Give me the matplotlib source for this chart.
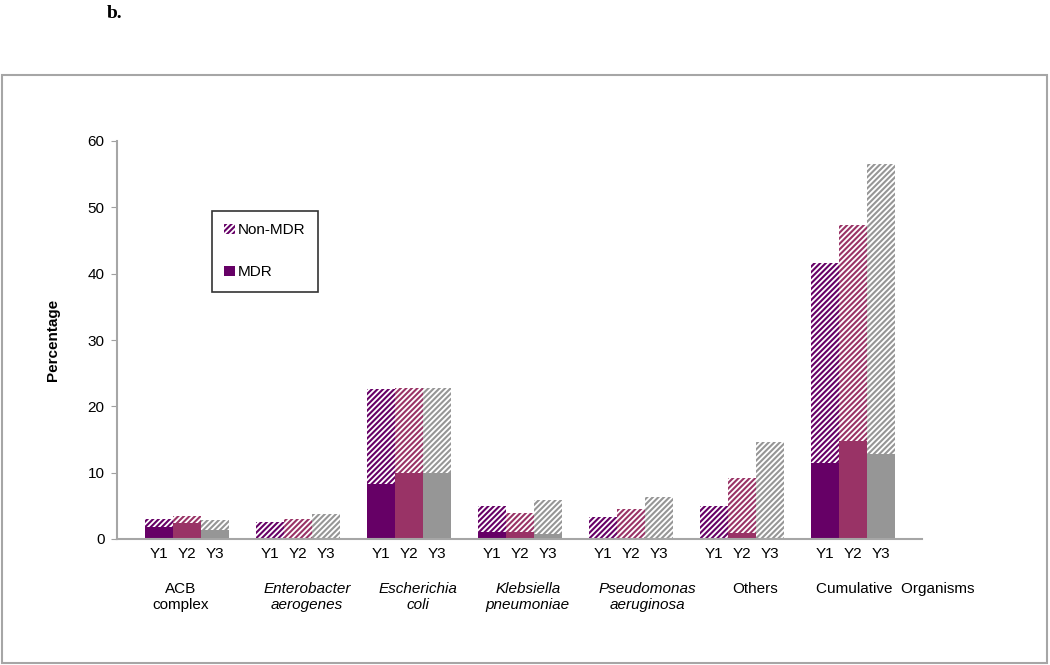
import matplotlib
matplotlib.use('Agg')
import matplotlib.pyplot as plt
import matplotlib.patches as mpatches
import matplotlib.transforms as mtransforms
import numpy as np

plt.rcParams['font.family'] = ['Liberation Sans', 'DejaVu Sans']
plt.rcParams['hatch.linewidth'] = 1.5

groups = ['ACB\ncomplex', 'Enterobacter\naerogenes', 'Escherichia\ncoli',
          'Klebsiella\npneumoniae', 'Pseudomonas\naeruginosa', 'Others',
          'Cumulative  Organisms']
italic = [False, True, True, True, True, False, False]
years = ['Y1', 'Y2', 'Y3']

# MDR (solid) and Non-MDR (hatched, stacked on top) percentages
mdr_y1 = [1.75, 0, 8.3, 1.1, 0, 0, 11.4]
mdr_y2 = [2.4, 0, 10.0, 1.1, 0, 0.85, 14.8]
mdr_y3 = [1.35, 0, 10.0, 0.75, 0, 0, 12.8]
non_y1 = [1.3, 2.55, 14.3, 3.9, 3.3, 4.95, 30.2]
non_y2 = [1.0, 3.05, 12.8, 2.8, 4.5, 8.35, 32.5]
non_y3 = [1.45, 3.7, 12.8, 5.15, 6.4, 14.6, 43.8]

colors = ['#660066', '#993366', '#969696']

fig = plt.figure(figsize=(10.5, 6.65), dpi=100)
ax = fig.add_axes([117 / 1050, 1 - 539 / 665, 805 / 1050, 398 / 665])

# outer frame and panel letter
fig.patches.append(mpatches.Rectangle((2 / 1050, 2 / 665), 1045 / 1050, 588 / 665,
                                      transform=fig.transFigure, fill=False,
                                      edgecolor='#a6a6a6', linewidth=1.5))
fig.text(115 / 1050, 1 - 14 / 665, 'b.', family=['Liberation Serif'], weight='bold',
         fontsize=14, ha='center', va='center')

x = np.arange(len(groups))
w = 0.252
mdr = [mdr_y1, mdr_y2, mdr_y3]
non = [non_y1, non_y2, non_y3]
tick_pos = []
for j in range(3):
    pos = x + (j - 1) * w
    tick_pos += list(pos)
    ax.bar(pos, mdr[j], w, color=colors[j], linewidth=0)
    ax.bar(pos, non[j], w, bottom=mdr[j], color='white', edgecolor=colors[j],
           hatch='//////', linewidth=0)

ax.set_xticks(tick_pos)
ax.set_xticklabels([y for y in years for _ in groups])
ax.tick_params(axis='x', length=0, pad=6, labelsize=11)
ax.tick_params(axis='y', length=4, color='#a0a0a0', pad=5, labelsize=11)
ax.set_ylim(0, 60)
ax.set_yticks(range(0, 61, 10))
ax.set_xlim(-0.63, 6.62)
for s in ['top', 'right']:
    ax.spines[s].set_visible(False)
for s in ['left', 'bottom']:
    ax.spines[s].set_color('#a6a6a6')
    ax.spines[s].set_linewidth(1.5)

ax.set_ylabel('Percentage', fontsize=11, weight='bold', labelpad=20)

label_shift = [-0.06, 0.08, 0.08, 0.07, 0.15, 0.12, 0.38]
trans = mtransforms.blended_transform_factory(ax.transData, ax.transAxes)
for i, g in enumerate(groups):
    ax.text(x[i] + label_shift[i], -0.108, g, transform=trans, ha='center', va='top',
            fontsize=11, style='italic' if italic[i] else 'normal', linespacing=1.2)

handles = [mpatches.Patch(facecolor='white', edgecolor=colors[0], hatch='//////',
                          linewidth=0, label='Non-MDR'),
           mpatches.Patch(facecolor=colors[0], linewidth=0, label='MDR')]
leg = ax.legend(handles=handles, loc='upper left',
                bbox_to_anchor=(212 / 1050, 1 - 211 / 665), bbox_transform=fig.transFigure,
                fontsize=11, frameon=True, fancybox=False, edgecolor='black',
                handlelength=0.7, handleheight=0.7, handletextpad=0.2,
                labelspacing=1.85, borderpad=0.8, borderaxespad=0)
leg.get_frame().set_linewidth(1.2)

fig.savefig('out.png', dpi=100)
